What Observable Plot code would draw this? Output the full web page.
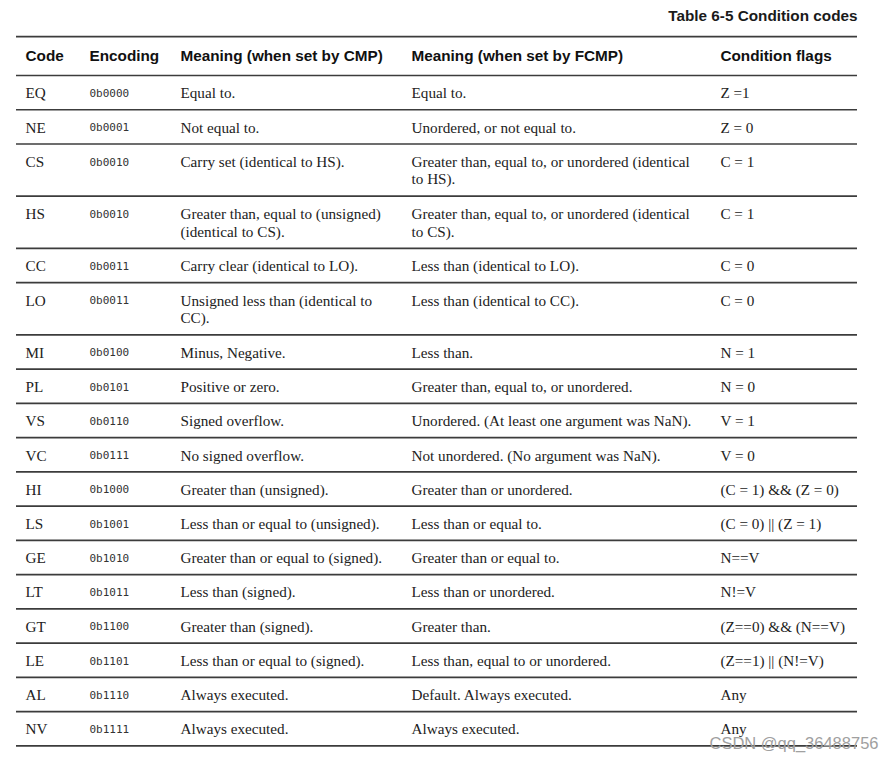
<!DOCTYPE html>
<html><head><meta charset="utf-8">
<script src="https://cdn.jsdelivr.net/npm/d3@7"></script>
<script src="https://cdn.jsdelivr.net/npm/@observablehq/plot@0.6"></script>
<style>html,body{margin:0;padding:0;background:#fff;overflow:hidden}</style>
</head><body><div id="chart"></div>
<script>
const title = "Table 6-5 Condition codes";
const headers = ["Code", "Encoding", "Meaning (when set by CMP)", "Meaning (when set by FCMP)", "Condition flags"];
const codes = ["EQ","NE","CS","HS","CC","LO","MI","PL","VS","VC","HI","LS","GE","LT","GT","LE","AL","NV"];
const encodings = ["0b0000","0b0001","0b0010","0b0010","0b0011","0b0011","0b0100","0b0101","0b0110","0b0111","0b1000","0b1001","0b1010","0b1011","0b1100","0b1101","0b1110","0b1111"];
const cmpMeaning = [
  "Equal to.",
  "Not equal to.",
  "Carry set (identical to HS).",
  "Greater than, equal to (unsigned)\n(identical to CS).",
  "Carry clear (identical to LO).",
  "Unsigned less than (identical to\nCC).",
  "Minus, Negative.",
  "Positive or zero.",
  "Signed overflow.",
  "No signed overflow.",
  "Greater than (unsigned).",
  "Less than or equal to (unsigned).",
  "Greater than or equal to (signed).",
  "Less than (signed).",
  "Greater than (signed).",
  "Less than or equal to (signed).",
  "Always executed.",
  "Always executed."
];
const fcmpMeaning = [
  "Equal to.",
  "Unordered, or not equal to.",
  "Greater than, equal to, or unordered (identical\nto HS).",
  "Greater than, equal to, or unordered (identical\nto CS).",
  "Less than (identical to LO).",
  "Less than (identical to CC).",
  "Less than.",
  "Greater than, equal to, or unordered.",
  "Unordered. (At least one argument was NaN).",
  "Not unordered. (No argument was NaN).",
  "Greater than or unordered.",
  "Less than or equal to.",
  "Greater than or equal to.",
  "Less than or unordered.",
  "Greater than.",
  "Less than, equal to or unordered.",
  "Default. Always executed.",
  "Always executed."
];
const flags = ["Z =1","Z = 0","C = 1","C = 1","C = 0","C = 0","N = 1","N = 0","V = 1","V = 0",
  "(C = 1) && (Z = 0)","(C = 0) || (Z = 1)","N==V","N!=V","(Z==0) && (N==V)","(Z==1) || (N!=V)","Any","Any"];
const watermark = "CSDN @qq_36488756";

// ---- layout (table units) ----
const colStart = [0.0107, 0.0868, 0.195, 0.4697, 0.837];
const rowPad = 0.907;      // extra height per row, in line units
const headerH = 2.17;      // header band height, in line units
const textOff = 0.585;     // first text line offset inside a row
const headerY = -1.086;
const titleY = -3.33;

const columns = [codes, encodings, cmpMeaning, fcmpMeaning, flags];
const rows = [];
let acc = 0;
for (let i = 0; i < codes.length; ++i) {
  const n = d3.max(columns, col => col[i].split("\n").length);
  rows.push({i, top: acc, bottom: acc + rowPad + n});
  acc += rowPad + n;
}
const total = acc;
const cells = [];
rows.forEach(r => columns.forEach((col, c) => cells.push({x: colStart[c], y: r.top + textOff, text: col[r.i], col: c})));
const headerCells = headers.map((h, c) => ({x: colStart[c], y: headerY, text: h}));
const lines = [-headerH, 0, ...rows.map(r => r.bottom)];

const chart = Plot.plot({
  width: 893,
  height: 762,
  margin: 0,
  style: {background: "#fff"},
  x: {domain: [0, 1], range: [16, 857], axis: null},
  y: {domain: [0, total], range: [75, 745.3], axis: null},
  marks: [
    Plot.ruleY(lines, {y: d => d, x1: 0, x2: 1, stroke: "#3c3c3c", strokeWidth: 1.7}),
    Plot.text([title], {x: 1, y: titleY, text: d => d, textAnchor: "end", lineAnchor: "middle",
      fontFamily: "Liberation Sans, Arial, sans-serif", fontWeight: "bold", fontSize: 15.3, fill: "#1a1a1a"}),
    Plot.text(headerCells, {x: "x", y: "y", text: "text", textAnchor: "start", lineAnchor: "middle",
      fontFamily: "Liberation Sans, Arial, sans-serif", fontWeight: "bold", fontSize: 15.3, fill: "#111"}),
    Plot.text(cells.filter(d => d.col !== 1), {x: "x", y: "y", text: "text", textAnchor: "start", lineAnchor: "top",
      lineHeight: 1.15, fontFamily: "Liberation Serif, Times New Roman, serif", fontSize: 15.2, fill: "#222"}),
    Plot.text(cells.filter(d => d.col === 1), {x: "x", y: "y", text: "text", textAnchor: "start", lineAnchor: "top",
      dy: 3.2, fontFamily: "DejaVu Sans Mono, monospace", fontSize: 11, fill: "#333"}),
    Plot.text([watermark], {frameAnchor: "bottom-right", text: d => d, textAnchor: "end", lineAnchor: "middle",
      dx: -15, dy: -19, fontFamily: "Liberation Sans, Arial, sans-serif", fontSize: 16.5, fill: "#a0a0a0"})
  ]
});
document.getElementById("chart").append(chart);
</script>
</body></html>
